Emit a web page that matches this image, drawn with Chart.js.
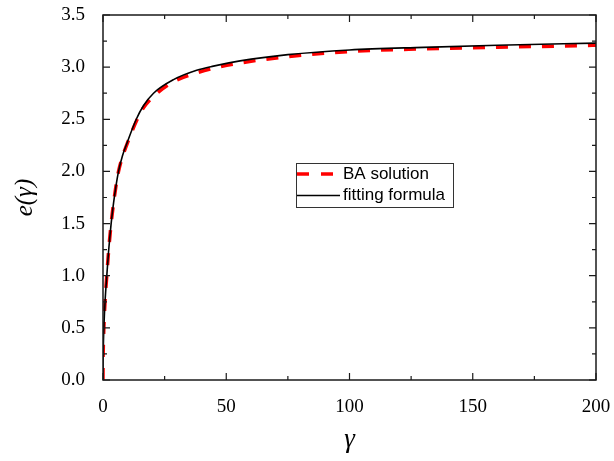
<!DOCTYPE html>
<html>
<head>
<meta charset="utf-8">
<script src="https://cdn.jsdelivr.net/npm/chart.js@4/dist/chart.umd.min.js"></script>
<style>
  html, body { margin: 0; padding: 0; background: #fff; }
  #wrap { width: 614px; height: 461px; position: relative; }
</style>
</head>
<body>
<div id="wrap"><canvas id="chart" width="614" height="461"></canvas></div>
<script>
// values
const gammaFit = [0, 0.03, 0.1, 0.37, 0.9, 1.6, 2.25, 3.3, 4.3, 5.2, 6.3, 7.9, 9.7, 13.5, 16.4, 20.5, 28.6, 38, 44.8, 55.6, 75, 100, 130, 160, 200];
const eFit     = [0, 0.15, 0.28, 0.51, 0.78, 1.02, 1.23, 1.50, 1.70, 1.85, 2.0, 2.15, 2.27, 2.5, 2.63, 2.75, 2.88, 2.97, 3.01, 3.06, 3.12, 3.165, 3.19, 3.21, 3.23];

const gammaBA = [0, 0.03, 0.1, 0.37, 0.9, 1.6, 2.25, 3.3, 4.3, 5.2, 6.3, 7.9, 9.7, 13.5, 16.4, 20.5, 28.6, 38, 44.8, 55.6, 75, 100, 130, 160, 200];
const eBA     = [0, 0.15, 0.28, 0.51, 0.78, 1.02, 1.23, 1.50, 1.70, 1.85, 2.0, 2.14, 2.26, 2.48, 2.61, 2.72, 2.86, 2.945, 2.99, 3.04, 3.10, 3.15, 3.175, 3.19, 3.21];

const xTicks = [0, 50, 100, 150, 200];
const yTicks = [0, 0.5, 1.0, 1.5, 2.0, 2.5, 3.0, 3.5];

const labels = { ba: 'BA solution', fit: 'fitting formula' };

const toPoints = (xs, ys) => xs.map((x, i) => ({ x, y: ys[i] }));

// box, inward ticks on all four sides, and the legend
const framePlugin = {
    id: 'frame',
    afterDraw(chart) {
        const { ctx, chartArea: a, scales } = chart;
        const xs = scales.x;
        const ys = scales.y;
        ctx.save();
        ctx.strokeStyle = '#1a1a1a';
        ctx.lineWidth = 1.5;
        ctx.strokeRect(a.left, a.top, a.right - a.left, a.bottom - a.top);

        const major = 7;
        const minor = 4;
        ctx.lineWidth = 1.2;
        ctx.beginPath();
        xTicks.forEach((v, i) => {
            const px = xs.getPixelForValue(v);
            ctx.moveTo(px, a.bottom); ctx.lineTo(px, a.bottom - major);
            ctx.moveTo(px, a.top); ctx.lineTo(px, a.top + major);
            if (i < xTicks.length - 1) {
                const m = xs.getPixelForValue((v + xTicks[i + 1]) / 2);
                ctx.moveTo(m, a.bottom); ctx.lineTo(m, a.bottom - minor);
                ctx.moveTo(m, a.top); ctx.lineTo(m, a.top + minor);
            }
        });
        yTicks.forEach((v, i) => {
            const py = ys.getPixelForValue(v);
            ctx.moveTo(a.left, py); ctx.lineTo(a.left + major, py);
            ctx.moveTo(a.right, py); ctx.lineTo(a.right - major, py);
            if (i < yTicks.length - 1) {
                const m = ys.getPixelForValue((v + yTicks[i + 1]) / 2);
                ctx.moveTo(a.left, m); ctx.lineTo(a.left + minor, m);
                ctx.moveTo(a.right, m); ctx.lineTo(a.right - minor, m);
            }
        });
        ctx.stroke();

        // legend
        const lx = 296, ly = 163, lw = 157, lh = 44;
        ctx.fillStyle = '#fff';
        ctx.fillRect(lx, ly, lw, lh);
        ctx.strokeStyle = '#333';
        ctx.lineWidth = 1;
        ctx.strokeRect(lx + 0.5, ly + 0.5, lw, lh);

        ctx.lineWidth = 3.5;
        ctx.strokeStyle = '#ff0000';
        ctx.setLineDash([12, 12]);
        ctx.beginPath();
        ctx.moveTo(297, 174); ctx.lineTo(340, 174);
        ctx.stroke();
        ctx.setLineDash([]);
        ctx.lineWidth = 1.5;
        ctx.strokeStyle = '#000';
        ctx.beginPath();
        ctx.moveTo(297, 195.5); ctx.lineTo(340, 195.5);
        ctx.stroke();

        ctx.fillStyle = '#000';
        ctx.font = '17px "Liberation Sans", Arial, sans-serif';
        ctx.textBaseline = 'middle';
        ctx.textAlign = 'left';
        ctx.fillText(labels.ba, 343, 174);
        ctx.fillText(labels.fit, 343, 195.5);
        ctx.restore();
    },
};

const tickFont = { family: '"Liberation Serif", "Times New Roman", serif', size: 19 };

new Chart(document.getElementById('chart'), {
    type: 'line',
    data: {
        datasets: [
            {
                label: labels.fit,
                data: toPoints(gammaFit, eFit),
                borderColor: '#000',
                borderWidth: 1.6,
                pointRadius: 0,
                cubicInterpolationMode: 'monotone',
                fill: false,
            },
            {
                label: labels.ba,
                data: toPoints(gammaBA, eBA),
                borderColor: '#ff0000',
                borderWidth: 3.5,
                borderDash: [12, 11],
                pointRadius: 0,
                cubicInterpolationMode: 'monotone',
                fill: false,
            },
        ],
    },
    options: {
        responsive: false,
        animation: false,
        layout: { padding: { top: 15, right: 18, left: 0, bottom: 0 } },
        plugins: {
            legend: { display: false },
            tooltip: { enabled: false },
        },
        scales: {
            x: {
                type: 'linear',
                min: 0,
                max: 200,
                afterFit: (s) => {
                    s.height = 81;
                    s.paddingLeft = 0;
                    s.paddingRight = 0;
                },
                afterBuildTicks: (s) => { s.ticks = xTicks.map((v) => ({ value: v })); },
                grid: { display: false },
                border: { display: false },
                ticks: {
                    color: '#000',
                    font: tickFont,
                    padding: 8,
                    maxRotation: 0,
                },
                title: {
                    display: true,
                    text: 'γ',
                    color: '#000',
                    font: { family: '"Liberation Serif", "Times New Roman", serif', size: 27, style: 'italic' },
                    padding: { top: 0, bottom: 5 },
                },
            },
            y: {
                type: 'linear',
                min: 0,
                max: 3.5,
                afterFit: (s) => {
                    s.width = 103;
                    s.paddingTop = 0;
                    s.paddingBottom = 0;
                },
                afterBuildTicks: (s) => { s.ticks = yTicks.map((v) => ({ value: v })); },
                grid: { display: false },
                border: { display: false },
                ticks: {
                    color: '#000',
                    font: tickFont,
                    padding: 10,
                    callback: (v) => Number(v).toFixed(1),
                },
                title: {
                    display: true,
                    text: 'e(γ)',
                    color: '#000',
                    font: { family: '"Liberation Serif", "Times New Roman", serif', size: 25, style: 'italic' },
                    padding: { top: 10, bottom: 0 },
                },
            },
        },
    },
    plugins: [framePlugin],
});
</script>
</body>
</html>
